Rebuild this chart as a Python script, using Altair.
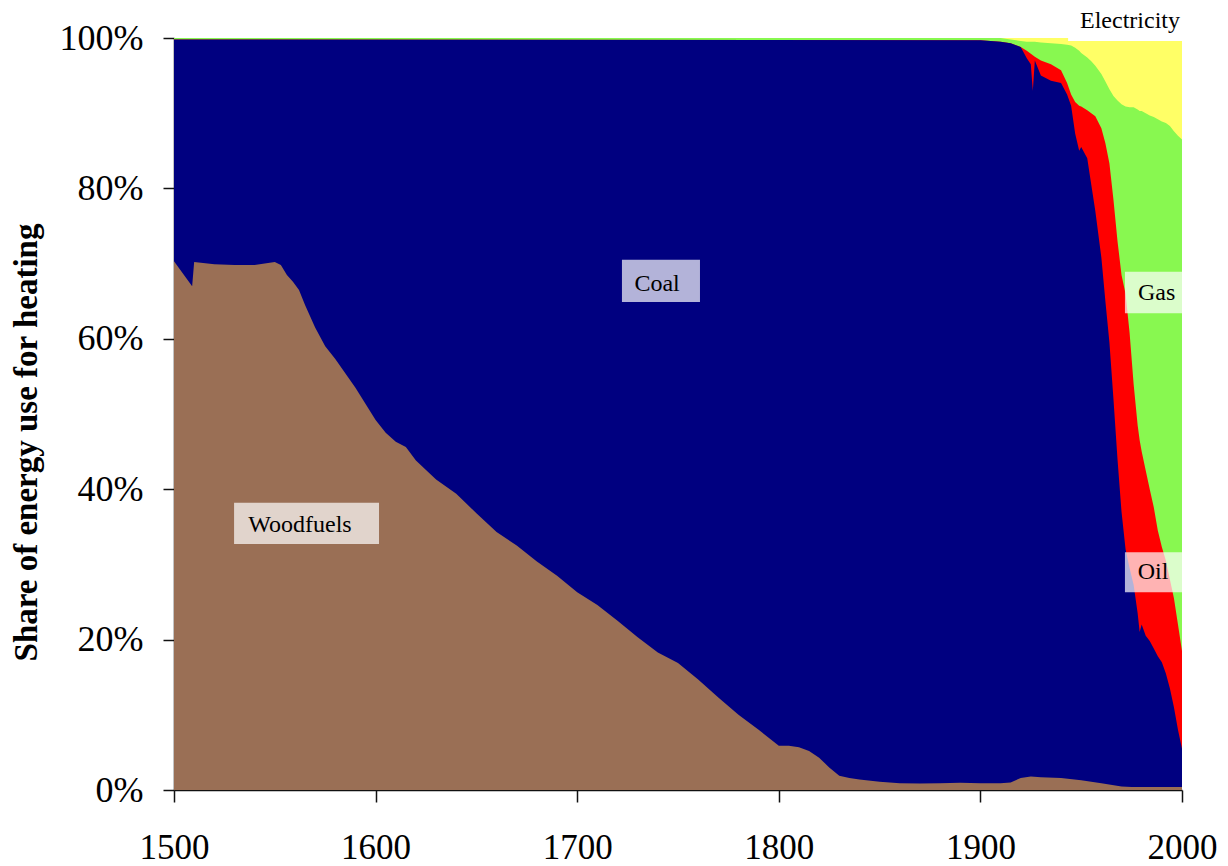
import altair as alt
import pandas as pd

# ---- data (cumulative share boundaries, %) ----
wood_years = [1500, 1509, 1510, 1520, 1530, 1540, 1550, 1553, 1556, 1559,
              1562, 1565, 1570, 1575, 1580, 1590, 1600, 1605, 1610, 1615,
              1620, 1630, 1640, 1650, 1660, 1670, 1680, 1690, 1700, 1710,
              1720, 1730, 1740, 1750, 1760, 1770, 1780, 1790, 1800, 1805,
              1810, 1815, 1820, 1825, 1830, 1835, 1840, 1850, 1860, 1870,
              1880, 1890, 1900, 1910, 1915, 1920, 1925, 1930, 1940, 1950,
              1960, 1970, 1975, 2000]
wood_top = [70.3, 67.0, 70.2, 69.9, 69.8, 69.8, 70.2, 69.8, 68.5, 67.6,
            66.5, 64.5, 61.5, 59.0, 57.3, 53.5, 49.2, 47.5, 46.3, 45.6,
            43.8, 41.3, 39.4, 36.8, 34.3, 32.5, 30.4, 28.5, 26.3, 24.6,
            22.5, 20.3, 18.3, 16.9, 14.7, 12.3, 10.0, 8.0, 5.9, 5.9,
            5.7, 5.2, 4.3, 3.0, 1.9, 1.6, 1.4, 1.1, 0.9, 0.85,
            0.9, 0.95, 0.9, 0.9, 1.0, 1.6, 1.8, 1.7, 1.6, 1.3,
            0.9, 0.45, 0.4, 0.4]

modern_years = [1500, 1900, 1910, 1915, 1920, 1923, 1925, 1926, 1927, 1930,
                1935, 1940, 1943, 1945, 1947, 1949, 1950, 1953, 1955, 1957,
                1960, 1962, 1964, 1966, 1968, 1970, 1972, 1974, 1976, 1978,
                1979, 1980, 1982, 1984, 1986, 1988, 1990, 1992, 1994, 1996,
                1998, 2000]
coal_top = [99.8, 99.7, 99.5, 99.3, 98.8, 97.3, 96.5, 93.0, 97.0, 95.0,
            94.3, 94.0, 92.5, 91.0, 87.3, 85.0, 85.5, 84.0, 80.5, 77.0,
            70.8, 65.0, 59.5, 52.0, 44.0, 37.0, 32.0, 29.5, 27.3, 23.5,
            21.0, 22.0, 20.5, 19.8, 18.8, 17.8, 17.0, 15.5, 13.5, 11.0,
            8.0, 5.5]
oil_top = [99.8, 99.7, 99.5, 99.3, 98.8, 98.3, 97.9, 97.7, 97.5, 97.0,
           96.5, 95.7, 94.0, 92.5, 91.5, 91.0, 90.9, 90.4, 90.0, 89.6,
           88.0, 86.0, 83.3, 78.5, 73.0, 68.5, 66.0, 60.8, 54.0, 48.5,
           46.5, 45.0, 42.5, 40.0, 37.6, 34.5, 32.3, 30.5, 28.0, 25.5,
           22.0, 18.5]
gas_top = [100, 100, 100, 99.8, 99.6, 99.5, 99.5, 99.5, 99.5, 99.4,
           99.3, 99.2, 99.1, 99.0, 98.7, 98.3, 98.0, 97.4, 96.9, 96.3,
           95.2, 94.2, 93.2, 92.3, 91.7, 91.2, 90.9, 90.8, 90.8, 90.5,
           90.3, 90.3, 90.0, 89.7, 89.5, 89.2, 88.9, 88.7, 88.3, 87.6,
           87.0, 86.5]
total_years = [1500, 2000]
total_top = [100, 100]

# ---- annotations ----
labels = ["Woodfuels", "Coal", "Oil", "Gas", "Electricity"]
label_x = [1562.5, 1739.6, 1985.6, 1987.4, 1974.2]
label_y = [34.3, 66.4, 28.0, 65.2, 101.3]
box_x1 = [1529.8, 1722.2, 1971.7, 1971.7, 1943.5]
box_x2 = [1601.7, 1760.9, 2000, 2000, 2000]
box_y1 = [32.7, 64.9, 26.3, 63.4, 99.6]
box_y2 = [38.2, 70.5, 31.6, 68.9, 104.0]
box_op = [0.7, 0.7, 0.7, 0.7, 1.0]

SERIF = "Liberation Serif"
xs = alt.Scale(domain=[1500, 2000], nice=False, zero=False)
ys = alt.Scale(domain=[0, 100], nice=False)

xaxis = alt.Axis(values=[1500, 1600, 1700, 1800, 1900, 2000], format="d",
                 tickSize=12, tickWidth=1.5, tickColor="#111",
                 domainColor="#111", domainWidth=1.5,
                 labelFont=SERIF, labelFontSize=35, labelColor="#000",
                 labelPadding=28, labelFlush=False, grid=False, title=None)
yaxis = alt.Axis(values=[0, 20, 40, 60, 80, 100], labelExpr="datum.value + '%'",
                 tickSize=11, tickWidth=1.5, tickColor="#111",
                 domainColor="#111", domainWidth=1.5,
                 labelFont=SERIF, labelFontSize=36, labelColor="#000",
                 labelPadding=20, grid=False,
                 title="Share of energy use for heating",
                 titleFont=SERIF, titleFontSize=33, titleFontWeight="bold",
                 titleColor="#000", titleX=-131, titleY=404,
                 titleAlign="center", titleBaseline="bottom", titleAngle=270)


def band(years, tops, color):
    df = pd.DataFrame({"year": years, "top": tops})
    return alt.Chart(df).mark_area(color=color, interpolate="linear",
                                   opacity=1).encode(
        x=alt.X("year:Q", scale=xs, axis=xaxis),
        y=alt.Y("top:Q", scale=ys, axis=yaxis),
    )


layers = [
    band(total_years, total_top, "#ffff66"),
    band(modern_years, gas_top, "#88f850"),
    band(modern_years, oil_top, "#ff0000"),
    band(modern_years, coal_top, "#000080"),
    band(wood_years, wood_top, "#9a6f55"),
]

ann = pd.DataFrame({"label": labels, "lx": label_x, "ly": label_y,
                    "x1": box_x1, "x2": box_x2, "y1": box_y1, "y2": box_y2,
                    "op": box_op})

boxes = alt.Chart(ann).mark_rect(color="white").encode(
    x=alt.X("x1:Q", scale=xs, axis=xaxis), x2="x2:Q",
    y=alt.Y("y1:Q", scale=ys, axis=yaxis), y2="y2:Q",
    opacity=alt.Opacity("op:Q", scale=None),
)
texts = alt.Chart(ann).mark_text(font=SERIF, fontSize=24, color="#000",
                                 align="center", baseline="alphabetic").encode(
    x=alt.X("lx:Q", scale=xs, axis=xaxis),
    y=alt.Y("ly:Q", scale=ys, axis=yaxis),
    text="label:N",
)

chart = alt.layer(*layers, boxes, texts).properties(
    width=1008, height=752,
    autosize=alt.AutoSizeParams(type="none"),
    padding={"left": 166, "top": 30, "right": 38, "bottom": 76},
    background="white",
).configure_view(stroke=None)

chart.save("out.html", embed_options={"renderer": "svg", "actions": False})
